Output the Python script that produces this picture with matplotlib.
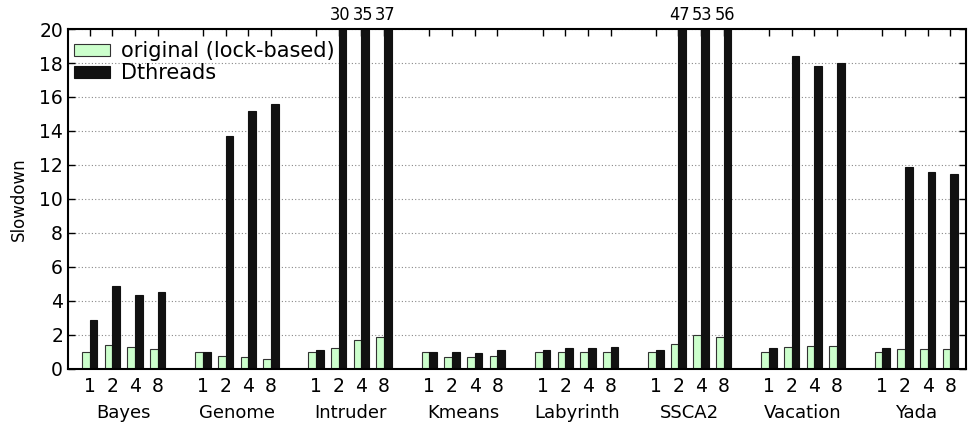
import matplotlib
matplotlib.use('Agg')
import matplotlib.pyplot as plt
import matplotlib.transforms as mtransforms
import numpy as np

# data
benchmarks = ['Bayes', 'Genome', 'Intruder', 'Kmeans', 'Labyrinth', 'SSCA2', 'Vacation', 'Yada']
threads = ['1', '2', '4', '8']
original = [
    [1.00, 1.36, 1.26, 1.13],  # Bayes
    [1.00, 0.72, 0.66, 0.56],  # Genome
    [1.00, 1.20, 1.68, 1.84],  # Intruder
    [1.00, 0.66, 0.69, 0.72],  # Kmeans
    [1.00, 1.00, 1.00, 1.00],  # Labyrinth
    [1.00, 1.42, 1.97, 1.85],  # SSCA2
    [1.00, 1.26, 1.34, 1.34],  # Vacation
    [1.00, 1.17, 1.17, 1.17],  # Yada
]
dthreads = [
    [2.85, 4.87, 4.36, 4.52],
    [1.00, 13.68, 15.15, 15.56],
    [1.09, 30, 35, 37],
    [1.00, 1.00, 0.93, 1.07],
    [1.07, 1.19, 1.20, 1.26],
    [1.09, 47, 53, 56],
    [1.19, 18.44, 17.85, 18.03],
    [1.19, 11.85, 11.56, 11.44],
]
ymax = 20

# positions: 4 slots per group, one empty slot between groups
pos = []
for g in range(len(benchmarks)):
    for t in range(len(threads)):
        pos.append(g * 5 + t)
pos = np.array(pos, dtype=float)
orig_flat = np.array(original).ravel()
dthr_flat = np.array(dthreads).ravel()

w = 0.34
fig = plt.figure(figsize=(9.68, 4.28), dpi=100)
ax = fig.add_axes([0.0702, 0.139, 0.998 - 0.0702, 0.932 - 0.139])

ax.bar(pos - w / 2, orig_flat, width=w, color='#ccffcc', edgecolor='#333333', linewidth=0.8,
       label='original (lock-based)', zorder=3)
ax.bar(pos + w / 2, np.minimum(dthr_flat, ymax), width=w, color='#111111', edgecolor='#111111',
       linewidth=0.8, label='Dthreads', zorder=3)

# values of clipped bars, centred on the tick
for x, v in zip(pos, dthr_flat):
    if v > ymax:
        ax.text(x + 0.05, ymax + 0.3, '%d' % v, ha='center', va='bottom', fontsize=13,
                fontstretch='condensed')

ax.set_ylim(0, ymax)
ax.set_xlim(-0.96, 38.7)
ax.set_yticks(np.arange(0, 21, 2))
ax.set_xticks(pos)
ax.set_xticklabels(threads * len(benchmarks))
ax.tick_params(axis='both', direction='in', top=True, right=True, labelsize=13.5, length=5, width=1)
ax.tick_params(axis='x', pad=6)
ax.yaxis.grid(True, linestyle=(0, (1, 2)), color='#888888', linewidth=0.8, zorder=0)
for s in ax.spines.values():
    s.set_linewidth(1.5)
    s.set_zorder(4)

trans = mtransforms.blended_transform_factory(ax.transData, ax.transAxes)
for g, name in enumerate(benchmarks):
    ax.text(g * 5 + 1.5, -0.131, name, transform=trans, ha='center', va='center', fontsize=13)

ax.set_ylabel('Slowdown', fontsize=12)
ax.yaxis.set_label_coords(-0.045, 0.5)

ax.legend(loc='upper left', bbox_to_anchor=(0.0, 0.982), frameon=False, fontsize=15,
          handlelength=1.7, handleheight=0.5, borderaxespad=0.0, borderpad=0.3,
          labelspacing=0.08, handletextpad=0.55)

fig.savefig('out.png', dpi=100)
